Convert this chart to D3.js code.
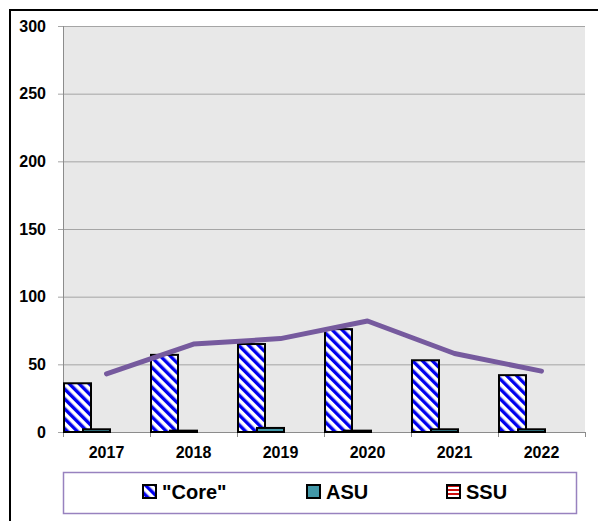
<!DOCTYPE html>
<html>
<head>
<meta charset="utf-8">
<script src="https://cdn.jsdelivr.net/npm/d3@7"></script>
<style>
  body { margin: 0; background: #fff; }
  text { font-family: "Liberation Sans", Arial, sans-serif; font-weight: bold; fill: #000; }
</style>
</head>
<body>
<div id="chart"></div>
<script>
// chart data
const years = ["2017", "2018", "2019", "2020", "2021", "2022"];
const coreValues = [36, 57, 65, 76, 53, 42];
const asuValues = [2, 1, 3, 1, 2, 2];
const ssuValues = [0, 0, 0, 0, 0, 0];
const totalLine = [43, 65, 69, 82, 58, 45];
const yTicks = [0, 50, 100, 150, 200, 250, 300];
const legendNames = ["\"Core\"", "ASU", "SSU"];

const W = 598, H = 521;
const plot = {left: 63, right: 585, top: 26, bottom: 432};

let svg = d3.select("#chart").append("svg")
    .attr("width", W)
    .attr("height", H);

// patterns for the fills
let defs = svg.append("defs");
let stripes = defs.append("pattern")
    .attr("id", "coreFill")
    .attr("patternUnits", "userSpaceOnUse")
    .attr("width", 7).attr("height", 7)
    .attr("patternTransform", "rotate(-45)");
stripes.append("rect").attr("width", 7).attr("height", 7).attr("fill", "#fff");
stripes.append("rect").attr("width", 3.4).attr("height", 7).attr("fill", "#0000ee");

let ssuFill = defs.append("pattern")
    .attr("id", "ssuFill")
    .attr("patternUnits", "userSpaceOnUse")
    .attr("width", 4).attr("height", 4);
ssuFill.append("rect").attr("width", 4).attr("height", 4).attr("fill", "#fff");
ssuFill.append("rect").attr("width", 4).attr("height", 2).attr("fill", "#d01010");

// outer frame
svg.append("rect")
    .attr("x", 10).attr("y", 10)
    .attr("width", 700).attr("height", 700)
    .attr("fill", "none")
    .attr("stroke", "#000")
    .attr("stroke-width", 2);

let x = d3.scaleBand().domain(years).range([plot.left, plot.right]);
let y = d3.scaleLinear().domain([0, 300]).range([plot.bottom, plot.top]);
// offset of each series inside its category (the bars overlap a bit)
let seriesX = d3.scaleLinear().domain([0, 1]).range([1, 20]);
const barW = 27;

svg.append("rect")
    .attr("x", plot.left).attr("y", plot.top)
    .attr("width", plot.right - plot.left)
    .attr("height", plot.bottom - plot.top)
    .attr("fill", "#e8e8e8");

// gridlines + y axis
let yAxis = d3.axisLeft(y)
    .tickValues(yTicks)
    .tickSize(-(plot.right - plot.left + 5))
    .tickPadding(12)
    .tickFormat(d3.format("d"));
let gy = svg.append("g")
    .attr("transform", `translate(${plot.left - 5},0)`)
    .call(yAxis);
gy.select(".domain").remove();
gy.selectAll("line").attr("stroke", "#a5a5a5").attr("stroke-width", 1);
gy.selectAll("text").attr("font-size", 16);

svg.append("line")
    .attr("x1", plot.left + 0.5).attr("x2", plot.left + 0.5)
    .attr("y1", plot.top).attr("y2", plot.bottom)
    .attr("stroke", "#8c8c8c");

// x axis
let xAxis = d3.axisBottom(x).tickSize(0).tickPadding(15);
let gx = svg.append("g")
    .attr("transform", `translate(0,${plot.bottom})`)
    .call(xAxis);
gx.select(".domain").attr("stroke", "#8c8c8c");
gx.selectAll("text").attr("font-size", 16);
gx.selectAll(".tickmark")
    .data(years.concat(["end"]))
    .enter().append("line")
    .attr("x1", (d, i) => i < years.length ? x(d) + 0.5 : plot.right + 0.5)
    .attr("x2", (d, i) => i < years.length ? x(d) + 0.5 : plot.right + 0.5)
    .attr("y1", 0).attr("y2", 5)
    .attr("stroke", "#8c8c8c");

// bars
const series = [
    {values: coreValues, fill: "url(#coreFill)"},
    {values: asuValues, fill: "#4298a8"},
    {values: ssuValues, fill: "url(#ssuFill)"}
];
series.forEach((s, si) => {
    svg.append("g").selectAll("rect")
        .data(s.values.map((v, i) => ({year: years[i], value: v})).filter(d => d.value > 0))
        .enter().append("rect")
        .attr("x", d => x(d.year) + seriesX(si))
        .attr("y", d => y(d.value))
        .attr("width", barW)
        .attr("height", d => y(0) - y(d.value))
        .attr("fill", s.fill)
        .attr("stroke", "#000")
        .attr("stroke-width", 2);
});

// line series
let line = d3.line()
    .x((d, i) => x(years[i]) + x.bandwidth() / 2)
    .y(d => y(d));
svg.append("path")
    .datum(totalLine)
    .attr("d", line)
    .attr("fill", "none")
    .attr("stroke", "#765a9e")
    .attr("stroke-width", 5)
    .attr("stroke-linejoin", "round")
    .attr("stroke-linecap", "round");

// legend
svg.append("rect")
    .attr("x", 63.5).attr("y", 472.5)
    .attr("width", 513).attr("height", 41)
    .attr("fill", "#fff")
    .attr("stroke", "#9882bf")
    .attr("stroke-width", 1.5);

const legendX = [143, 307, 447];
const legendFill = ["url(#coreFill)", "#4298a8", "url(#ssuFill)"];
let items = svg.selectAll(".legend-item")
    .data(legendNames)
    .enter().append("g")
    .attr("class", "legend-item")
    .attr("transform", (d, i) => `translate(${legendX[i]},485)`);
items.append("rect")
    .attr("width", 13).attr("height", 13)
    .attr("fill", (d, i) => legendFill[i])
    .attr("stroke", "#000")
    .attr("stroke-width", 2);
items.append("text")
    .attr("x", 19).attr("y", 14)
    .attr("font-size", 20)
    .text(d => d);
</script>
</body>
</html>
